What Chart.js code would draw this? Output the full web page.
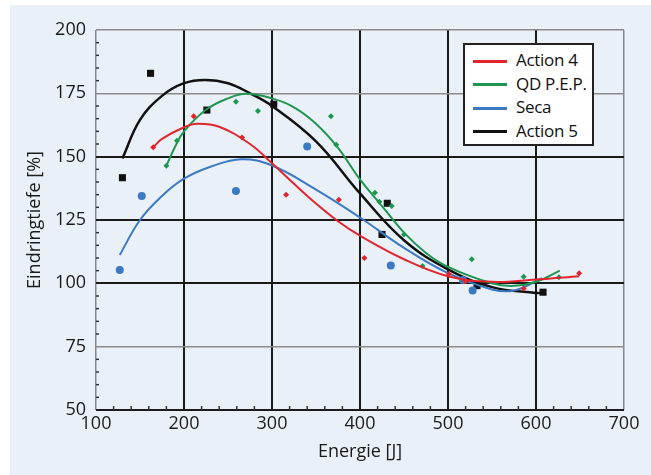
<!DOCTYPE html>
<html>
<head>
<meta charset="utf-8">
<script src="https://cdn.jsdelivr.net/npm/chart.js@4"></script>
<style>
  body { margin: 0; background: #fff; }
  #wrap { position: relative; width: 651px; height: 475px; }
  #bg { position: absolute; left: 10px; top: 5px; right: 0; bottom: 0; background: #eaf0f8; }
  #chart { position: absolute; left: 0; top: 0; }
  #legend {
    position: absolute; left: 463px; top: 43px; width: 127px; height: 99px;
    background: #fff; border: 2px solid #222;
    font-family: "Open Sans", sans-serif; font-size: 17px; color: #111;
  }
  #legend div { position: absolute; left: 8px; height: 24px; line-height: 24px; white-space: nowrap; letter-spacing: -0.3px; }
  #legend span { display: inline-block; width: 34px; height: 3px; vertical-align: middle; margin-right: 9px; }
</style>
</head>
<body>
<div id="wrap">
  <div id="bg"></div>
  <canvas id="chart" width="651" height="475"></canvas>
  <div id="legend"></div>
</div>
<script>
const seriesNames = ["Action 4", "QD P.E.P.", "Seca", "Action 5"];
const seriesColors = ["#e1252d", "#1f9650", "#3b79c3", "#111111"];

const energyTicks = [100, 200, 300, 400, 500, 600, 700];
const depthTicks = [50, 75, 100, 125, 150, 175, 200];

// measured points
const action4PtsX = [165, 211, 266, 316, 376, 405, 501, 520, 586, 649];
const action4PtsY = [153.7, 166, 157.6, 135, 133, 110, 103.7, 100.8, 98, 104];
const qdPtsX = [180, 192, 259, 284, 367, 373, 417, 422, 436, 450, 471, 527, 586, 626];
const qdPtsY = [146.4, 156.3, 171.7, 168, 166, 154.7, 135.8, 132.2, 130.5, 119.3, 106.8, 109.5, 102.6, 102.4];
const secaPtsX = [127, 152, 259, 340, 435, 517, 528];
const secaPtsY = [105.3, 134.5, 136.4, 154, 107, 101.3, 97.2];
const action5PtsX = [130, 162, 226, 302, 425, 431, 533, 608];
const action5PtsY = [141.7, 182.9, 168.4, 170.7, 119.3, 131.6, 99.1, 96.5];

// fitted curves
const action4CurveX = [165, 175, 200, 215, 240, 275, 300, 325, 350, 375, 400, 450, 500, 550, 600, 649];
const action4CurveY = [153.7, 157, 161.6, 163, 161.8, 155, 147.4, 139.3, 131.5, 124.5, 118.8, 109.5, 102.8, 100.6, 101.5, 102.8];
const qdCurveX = [180, 190, 200, 225, 250, 270, 300, 325, 350, 375, 400, 425, 450, 475, 500, 550, 575, 600, 627];
const qdCurveY = [146.4, 154, 160, 168.5, 173, 174.8, 173, 169.5, 163, 153.5, 141, 130.5, 120, 112, 106.5, 100, 99, 100.6, 105];
const secaCurveX = [127, 150, 175, 200, 230, 265, 300, 350, 400, 450, 500, 550, 575, 607];
const secaCurveY = [111.2, 125, 134.5, 141.3, 146, 149, 146.5, 137, 126, 114, 104, 97.6, 97.2, 102];
const action5CurveX = [130, 150, 175, 200, 224, 250, 275, 300, 350, 400, 450, 500, 550, 600, 607];
const action5CurveY = [149.3, 164.5, 174, 179, 180.3, 179, 175, 170, 156, 135.5, 117, 105.5, 98.5, 96.2, 96.2];

function toXY(xs, ys) {
  return xs.map((x, i) => ({ x: x, y: ys[i] }));
}

const pointSets = [
  toXY(action4PtsX, action4PtsY),
  toXY(qdPtsX, qdPtsY),
  toXY(secaPtsX, secaPtsY),
  toXY(action5PtsX, action5PtsY)
];
const curveSets = [
  toXY(action4CurveX, action4CurveY),
  toXY(qdCurveX, qdCurveY),
  toXY(secaCurveX, secaCurveY),
  toXY(action5CurveX, action5CurveY)
];
const pointStyles = ["rectRot", "rectRot", "circle", "rect"];
const pointSizes = [3, 3, 4, 5];

const datasets = [];
seriesNames.forEach((name, i) => {
  datasets.push({
    label: name,
    data: curveSets[i],
    showLine: true,
    borderColor: seriesColors[i],
    borderWidth: i === 3 ? 2.5 : 2,
    pointRadius: 0,
    tension: 0.4
  });
  datasets.push({
    label: name + ' (Messwerte)',
    data: pointSets[i],
    showLine: false,
    backgroundColor: seriesColors[i],
    borderColor: seriesColors[i],
    pointStyle: pointStyles[i],
    pointRadius: pointSizes[i],
    borderWidth: 0
  });
});

// small inside ticks along the axes
const minorTicks = {
  id: 'minorTicks',
  beforeDatasetsDraw(chart) {
    const { ctx, chartArea, scales: { x, y } } = chart;
    ctx.save();
    ctx.strokeStyle = '#333';
    ctx.lineWidth = 1.5;
    for (let v = 120; v < 700; v += 20) {
      if (v % 100 === 0) continue;
      const px = x.getPixelForValue(v);
      ctx.beginPath();
      ctx.moveTo(px, chartArea.bottom);
      ctx.lineTo(px, chartArea.bottom - 4);
      ctx.stroke();
    }
    for (let v = 55; v < 200; v += 5) {
      if (v % 25 === 0) continue;
      const py = y.getPixelForValue(v);
      ctx.beginPath();
      ctx.moveTo(chartArea.left, py);
      ctx.lineTo(chartArea.left + 3, py);
      ctx.stroke();
    }
    ctx.restore();
  }
};

const darkX = [200, 300, 400, 500, 600];
const darkY = [50, 100, 125, 150];
const axisFont = { family: 'Open Sans', size: 18 };

new Chart(document.getElementById('chart'), {
  type: 'scatter',
  data: { datasets: datasets },
  options: {
    responsive: false,
    animation: false,
    layout: { padding: { top: 30, right: 27, left: 10, bottom: 0 } },
    plugins: { legend: { display: false }, tooltip: { enabled: false } },
    scales: {
      x: {
        type: 'linear',
        min: 100, max: 700,
        afterFit(scale) { scale.height = 65; },
        afterBuildTicks(scale) { scale.ticks = energyTicks.map(v => ({ value: v })); },
        ticks: { font: axisFont, color: '#1a1a1a', padding: 3 },
        grid: {
          drawTicks: false,
          color: ctx => darkX.includes(ctx.tick.value) ? '#1a1a1a' : '#888',
          lineWidth: ctx => darkX.includes(ctx.tick.value) ? 2 : 1.5
        },
        border: { display: false },
        title: { display: true, text: 'Energie [J]', font: axisFont, color: '#1a1a1a', padding: { top: 0, bottom: 12 } }
      },
      y: {
        min: 50, max: 200,
        afterFit(scale) { scale.width = 86; },
        afterBuildTicks(scale) { scale.ticks = depthTicks.map(v => ({ value: v })); },
        ticks: { font: axisFont, color: '#1a1a1a', padding: 10 },
        grid: {
          drawTicks: false,
          color: ctx => darkY.includes(ctx.tick.value) ? '#1a1a1a' : '#8a8a8a',
          lineWidth: ctx => darkY.includes(ctx.tick.value) ? 2 : 1.5
        },
        border: { display: false },
        title: { display: true, text: 'Eindringtiefe [%]', font: axisFont, color: '#1a1a1a', padding: { top: 14, bottom: 0 } }
      }
    }
  },
  plugins: [minorTicks]
});

// legend box
const legendEl = document.getElementById('legend');
seriesNames.forEach((name, i) => {
  const row = document.createElement('div');
  row.style.top = (3 + i * 23.5) + 'px';
  row.innerHTML = '<span style="background:' + seriesColors[i] + '"></span>' + name;
  legendEl.appendChild(row);
});
</script>
</body>
</html>
